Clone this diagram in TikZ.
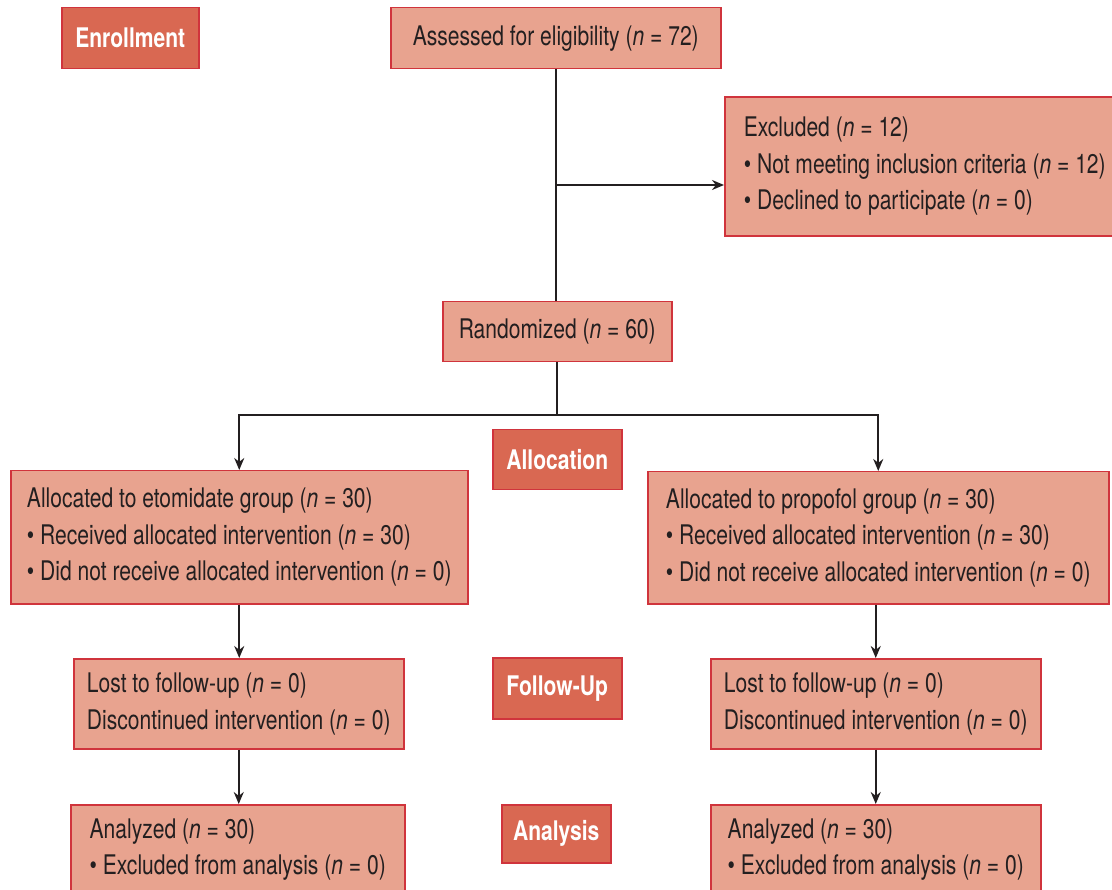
\documentclass[tikz,border=0pt]{standalone}
\usepackage{fontspec}
\setmainfont{TeX Gyre Heros}[FakeStretch=0.78]
\usetikzlibrary{arrows.meta}
\definecolor{boxfill}{RGB}{232,163,143}
\definecolor{phasefill}{RGB}{217,104,82}
\definecolor{boxline}{RGB}{208,52,60}
\definecolor{linkcol}{RGB}{35,31,32}
\tikzset{
  box/.style={draw=boxline, fill=boxfill, line width=1.5pt, anchor=north west,
    align=left, inner xsep=10pt, text=linkcol, font=\fontsize{27}{36.5}\selectfont},
  phase/.style={draw=boxline, fill=phasefill, line width=1.5pt, anchor=north west,
    text=white, font=\fontsize{27}{32}\selectfont\bfseries},
  link/.style={draw=linkcol, line width=2pt},
  arrow/.style={link, -{Stealth[length=12pt, width=10pt]}}
}
\begin{document}
\begin{tikzpicture}[x=1pt, y=-1pt]
    \useasboundingbox (0,0) rectangle (1112,890);

    % 阶段标签
    \node[phase, minimum width=137, minimum height=61] (enroll) at (61,7) {Enrollment};
    \node[phase, minimum width=129, minimum height=60] (alloc) at (492,429) {Allocation};
    \node[phase, minimum width=129, minimum height=61] (follow) at (492,657) {Follow-Up};
    \node[phase, minimum width=109, minimum height=58] (analysis) at (501,804) {Analysis};

    % 筛选与随机
    \node[box, minimum width=330, minimum height=61] (assess) at (390,7)
        {Assessed for eligibility (\textit{n} = 72)};
    \node[box, anchor=west, inner xsep=16pt, minimum width=400, minimum height=139] (excl) at (724,166.5)
        {Excluded (\textit{n} = 12)\\
         \textbullet\ Not meeting inclusion criteria (\textit{n} = 12)\\
         \textbullet\ Declined to participate (\textit{n} = 0)};
    \node[box, minimum width=229, minimum height=60] (rand) at (442,301)
        {Randomized (\textit{n} = 60)};

    % 分组
    \node[box, minimum width=457, minimum height=133] (eto) at (10,470)
        {Allocated to etomidate group (\textit{n} = 30)\\
         \textbullet\ Received allocated intervention (\textit{n} = 30)\\
         \textbullet\ Did not receive allocated intervention (\textit{n} = 0)};
    \node[box, minimum width=461, minimum height=132] (prop) at (647,471)
        {Allocated to propofol group (\textit{n} = 30)\\
         \textbullet\ Received allocated intervention (\textit{n} = 30)\\
         \textbullet\ Did not receive allocated intervention (\textit{n} = 0)};

    % 随访
    \node[box, minimum width=330, minimum height=90] (lostL) at (73,658)
        {Lost to follow-up (\textit{n} = 0)\\
         Discontinued intervention (\textit{n} = 0)};
    \node[box, minimum width=330, minimum height=90] (lostR) at (710,658)
        {Lost to follow-up (\textit{n} = 0)\\
         Discontinued intervention (\textit{n} = 0)};

    % 分析
    \node[box, minimum width=334, minimum height=90] (anaL) at (70,804)
        {Analyzed (\textit{n} = 30)\\
         \textbullet\ Excluded from analysis (\textit{n} = 0)};
    \node[box, minimum width=330, minimum height=90] (anaR) at (710,804)
        {Analyzed (\textit{n} = 30)\\
         \textbullet\ Excluded from analysis (\textit{n} = 0)};

    % 连线
    \draw[link] (assess.south) -- (assess.south |- rand.north);
    \coordinate (branch) at (assess.south |- 0,185);
    \draw[arrow] (branch) -- (branch -| excl.west);
    \draw[link] (rand.south) -- ++(0,53) coordinate (split);
    \draw[arrow] (split) -| (eto.north);
    \draw[arrow] (split) -| (prop.north);
    \draw[arrow] (eto.south) -- (eto.south |- lostL.north);
    \draw[arrow] (lostR.north |- prop.south) -- (lostR.north);
    \draw[arrow] (lostL.south) -- (lostL.south |- anaL.north);
    \draw[arrow] (lostR.south) -- (lostR.south |- anaR.north);
\end{tikzpicture}
\end{document}
